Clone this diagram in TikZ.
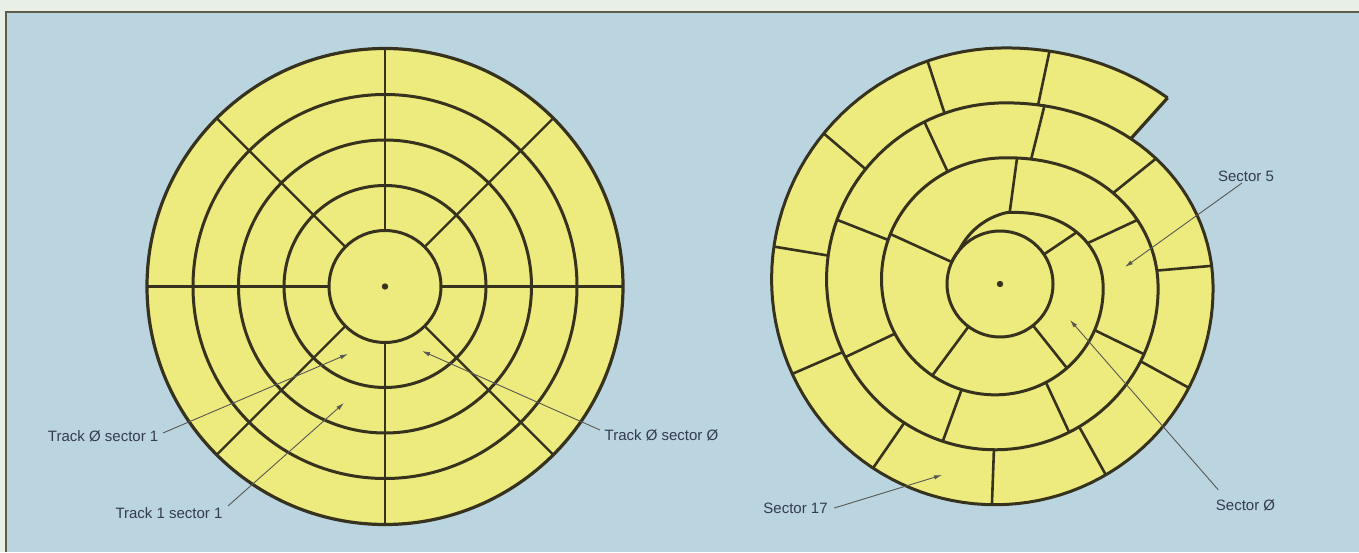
\documentclass[tikz,border=0pt]{standalone}
\usepackage{fontspec}
\setmainfont{Liberation Sans}
\usetikzlibrary{arrows.meta,positioning}

\definecolor{paper}{RGB}{232,239,230}
\definecolor{panelblue}{RGB}{186,213,223}
\definecolor{disk}{RGB}{237,235,126}
\definecolor{inkline}{RGB}{54,50,30}
\definecolor{labelink}{RGB}{52,58,82}
\definecolor{pointer}{RGB}{88,88,84}

\begin{document}
\begin{tikzpicture}[
  x=1pt, y=1pt,
  font=\fontsize{15}{18}\selectfont,
  declare function={
    spS(\x)=floor(\x/360)+(1-cos(2*min(mod(\x,360),90)))/2;
    spR(\x)=max(53,268-0.0852*\x-24.3*spS(\x)-15*sin(1.2*min(max(\x-1165,0),75)));
  },
  lab/.style={text=labelink, inner sep=1.5pt},
  rim/.style={draw=inkline, line width=3.2pt},
  ring/.style={draw=inkline, line width=3pt},
  spoke/.style={draw=inkline, line width=2.2pt},
  radial/.style={draw=inkline, line width=2.6pt},
  arr/.style={-{Latex[length=8pt,width=4.5pt]}, draw=pointer, line width=0.9pt}
]
\useasboundingbox (0,0) rectangle (1359,552);
\fill[paper] (0,0) rectangle (1359,552);
\fill[panelblue] (6,0) rectangle (1359,540);
\draw[inkline!80, line width=1.4pt] (6,0) -- (6,540) -- (1359,540);

% tracks and sectors
\begin{scope}[shift={(385,265.5)}]
  \fill[disk] (0,0) circle (238);
  \foreach \pos in {0,45,...,315}
    \draw[spoke] (\pos:56) -- (\pos:238);
  \foreach \rad in {56,101,146.5,192}
    \draw[ring] (0,0) circle (\rad);
  \draw[rim] (0,0) circle (238);
  \fill[inkline] (0,0) circle (3.2);
\end{scope}

% one spiral track
\begin{scope}[shift={(1000,268)}]
  \fill[disk] plot[domain=48:408, samples=160] (\x:{spR(\x)}) -- cycle;
  \foreach \pos in {78,108,139.5,170.6,203.4,235.4,267.9,299,331.2,364.9,398.8,
                    436,475,518.5,565.3,610,655,694,745,
                    802.3,875.5,953.5,1028.5,1114}
    \draw[radial] (\pos:{spR(\pos)}) -- (\pos:{spR(\pos+360)});
  \draw[ring, line join=round] plot[domain=48:1235, samples=420] (\x:{spR(\x)});
  \draw[rim] (48:{spR(48)}) -- (408:{spR(408)});
  \draw[ring] (0,0) circle (53);
  \fill[inkline] (0,0) circle (3.2);
\end{scope}

\node[lab, anchor=east] (t0s1) at (160,116) {Track Ø sector 1};
\node[lab] (t1s1) at (169,39) {Track 1 sector 1};
\node[lab, anchor=west] (t0s0) at (603,117) {Track Ø sector Ø};
\node[lab] (s17) at (795.5,44) {Sector 17};
\node[lab] (s0) at (1245.5,47) {Sector Ø};
\node[lab] (s5) at (1246,376) {Sector 5};

\coordinate (p0s1) at (348,198);
\coordinate (p1s1) at (344,149);
\coordinate (p0s0) at (422,201);
\coordinate (p17) at (942,77);
\coordinate (p0) at (1070,232);
\coordinate (p5) at (1125,285);

\draw[arr] ([xshift=3pt,yshift=3pt]t0s1.east) -- (p0s1);
\draw[arr] ([xshift=4pt]t1s1.north east) -- (p1s1);
\draw[arr] ([xshift=-3pt,yshift=5pt]t0s0.west) -- (p0s0);
\draw[arr] ([xshift=5pt]s17.east) -- (p17);
\draw[arr] ([xshift=4pt,yshift=8pt]s0.north west) -- (p0);
\draw[arr] ([xshift=-4pt]s5.south) -- (p5);
\end{tikzpicture}
\end{document}
